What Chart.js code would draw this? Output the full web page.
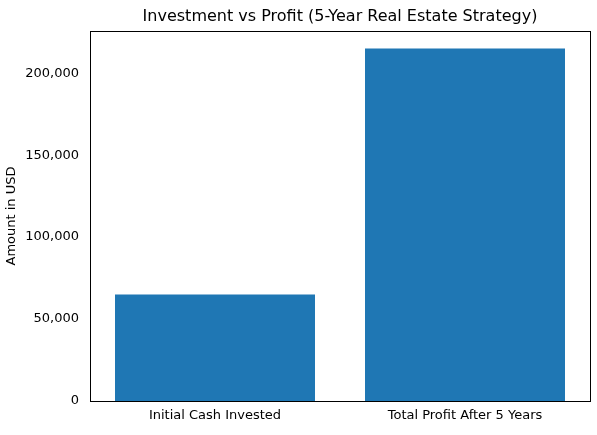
<!DOCTYPE html>
<html>
<head>
<script src="https://cdn.jsdelivr.net/npm/chart.js"></script>
<style>body{margin:0;background:#fff}</style>
</head>
<body>
<canvas id="c" width="597" height="435"></canvas>
<script>
const categories = ["Initial Cash Invested", "Total Profit After 5 Years"];
const amounts = [65000, 215000];
const yTicks = [0, 50000, 100000, 150000, 200000];

const font = {family: "DejaVu Sans", size: 13};

// draws the title and the box around the plot like matplotlib does
const frame = {
    id: 'frame',
    afterDraw(chart) {
        const ctx = chart.ctx, a = chart.chartArea;
        ctx.save();
        ctx.strokeStyle = "#000";
        ctx.lineWidth = 1;
        ctx.strokeRect(a.left + 0.5, a.top + 0.5, a.right - a.left, a.bottom - a.top);
        ctx.fillStyle = "#000";
        ctx.font = "16px DejaVu Sans";
        ctx.textAlign = "center";
        ctx.textBaseline = "bottom";
        ctx.fillText("Investment vs Profit (5-Year Real Estate Strategy)", (a.left + a.right) / 2, a.top - 6);
        ctx.restore();
    }
};

new Chart(document.querySelector('#c').getContext('2d'), {
    type: 'bar',
    data: {
        labels: categories,
        datasets: [{
            data: amounts,
            backgroundColor: "#1f77b4",
            barPercentage: 0.8,
            categoryPercentage: 1
        }]
    },
    options: {
        responsive: false,
        animation: false,
        layout: {padding: {top: 31, right: 7}},
        plugins: {legend: {display: false}, tooltip: {enabled: false}},
        scales: {
            x: {
                grid: {display: false, drawTicks: true, tickLength: 4},
                border: {color: "#000"},
                ticks: {color: "#000", font: font},
                afterFit: s => { s.height = 34; }
            },
            y: {
                min: 0,
                max: 225750,
                afterBuildTicks: s => { s.ticks = yTicks.map(v => ({value: v})); },
                grid: {display: false},
                border: {color: "#000"},
                ticks: {color: "#000", font: font},
                title: {display: true, text: "Amount in USD", color: "#000", font: font},
                afterFit: s => { s.width = 90; }
            }
        }
    },
    plugins: [frame]
});
</script>
</body>
</html>
